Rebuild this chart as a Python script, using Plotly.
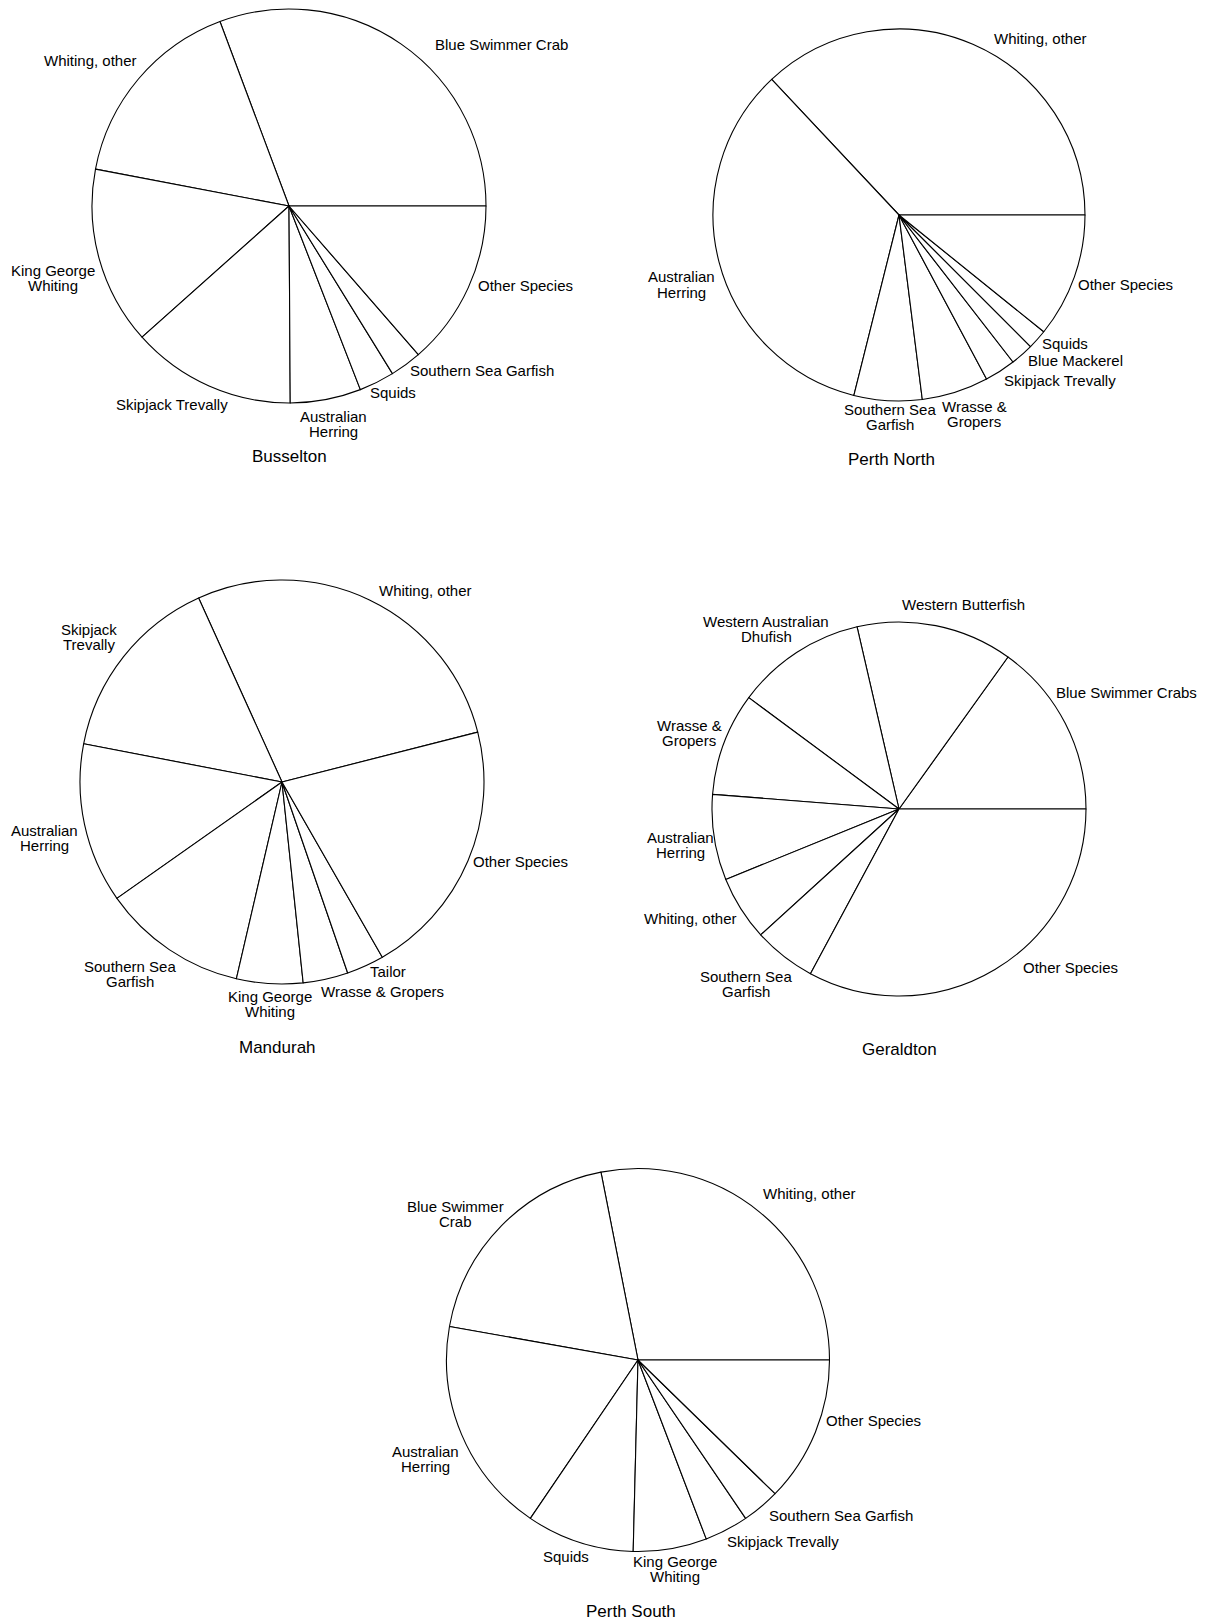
import plotly.graph_objects as go

W, H = 1208, 1623

# ------------------------------------------------------------------ data
busselton_species = ["Blue Swimmer Crab", "Whiting, other", "King George\nWhiting", "Skipjack Trevally",
                     "Australian\nHerring", "Squids", "Southern Sea Garfish", "Other Species"]
busselton_share = [30.7, 16.3, 14.6, 13.5, 5.8, 2.9, 2.6, 13.6]

perth_north_species = ["Whiting, other", "Australian\nHerring", "Southern Sea\nGarfish", "Wrasse &\nGropers",
                       "Skipjack Trevally", "Blue Mackerel", "Squids", "Other Species"]
perth_north_share = [37.0, 34.1, 5.9, 5.8, 2.7, 2.0, 1.7, 10.8]

mandurah_species = ["Whiting, other", "Skipjack\nTrevally", "Australian\nHerring", "Southern Sea\nGarfish",
                    "King George\nWhiting", "Wrasse & Gropers", "Tailor", "Other Species"]
mandurah_share = [27.8, 15.2, 12.8, 11.6, 5.3, 3.6, 3.0, 20.7]

geraldton_species = ["Blue Swimmer Crabs", "Western Butterfish", "Western Australian\nDhufish", "Wrasse &\nGropers",
                     "Australian\nHerring", "Whiting, other", "Southern Sea\nGarfish", "Other Species"]
geraldton_share = [15.1, 13.5, 11.25, 8.9, 7.4, 5.6, 5.4, 32.85]

perth_south_species = ["Whiting, other", "Blue Swimmer\nCrab", "Australian\nHerring", "Squids",
                       "King George\nWhiting", "Skipjack Trevally", "Southern Sea Garfish", "Other Species"]
perth_south_share = [28.1, 19.1, 18.3, 9.1, 6.2, 3.7, 3.2, 12.3]

regions = ["Busselton", "Perth North", "Mandurah", "Geraldton", "Perth South"]
species_by_region = [busselton_species, perth_north_species, mandurah_species, geraldton_species, perth_south_species]
share_by_region = [busselton_share, perth_north_share, mandurah_share, geraldton_share, perth_south_share]

# ------------------------------------------------------------------ layout (px)
# pie centre x, centre y, radius, start angle (deg, counter-clockwise from 3 o'clock)
PIE_BOX = {
    "Busselton": (289, 206, 197, 0.0),
    "Perth North": (899, 215, 186, 0.0),
    "Mandurah": (282, 782, 202, 14.3),
    "Geraldton": (899, 809, 187, 0.0),
    "Perth South": (638, 1360, 191.5, 0.0),
}
TITLE_POS = {
    "Busselton": (289, 457),
    "Perth North": (891, 459),
    "Mandurah": (277, 1047),
    "Geraldton": (899, 1049),
    "Perth South": (631, 1611),
}
# label anchor x, centre y, x-anchor  (same order as species lists)
LABEL_POS = {
    "Busselton": [(434.6, 44.3, "left"), (136.5, 60, "right"), (52.5, 278, "center"), (227.7, 404, "right"),
                  (333.7, 423.5, "center"), (370.4, 392.7, "left"), (409.6, 370, "left"), (477.7, 285.7, "left")],
    "Perth North": [(994.2, 38.3, "left"), (681.2, 284.5, "center"), (889.6, 416.5, "center"),
                    (974.2, 414.2, "center"), (1003.8, 380, "left"), (1027.7, 360, "left"),
                    (1042.3, 343.3, "left"), (1078, 284, "left")],
    "Mandurah": [(378.8, 590.7, "left"), (88.5, 636.8, "center"), (44.8, 838.3, "center"), (130, 973.8, "center"),
                 (269.8, 1003.8, "center"), (321, 991.7, "left"), (370, 971.7, "left"), (473, 861.7, "left")],
    "Geraldton": [(1055.8, 692.7, "left"), (902, 604.3, "left"), (766, 628.7, "center"), (689, 733.3, "center"),
                  (680, 845.2, "center"), (736.5, 918.3, "right"), (746, 983.5, "center"), (1023, 967.7, "left")],
    "Perth South": [(762.7, 1193.3, "left"), (455, 1214.2, "center"), (425.6, 1459.2, "center"),
                    (589, 1556.7, "right"), (675, 1568.5, "center"), (727, 1541.7, "left"),
                    (769.2, 1515, "left"), (825.8, 1420.7, "left")],
}
FONT = "Liberation Sans, Arial, Helvetica, sans-serif"
LABEL_SIZE = 15
TITLE_SIZE = 17
LINE_STEP = 15


def px(x):
    return x / W


def py(y):
    return 1 - y / H


fig = go.Figure()
annotations = []

for region, species, share in zip(regions, species_by_region, share_by_region):
    cx, cy, r, start = PIE_BOX[region]
    total = sum(share)
    first_deg = 360.0 * share[0] / total
    rotation = (90.0 - start) - first_deg
    fig.add_trace(go.Pie(
        labels=[s.replace("\n", " ") for s in species],
        values=share,
        sort=False,
        direction="counterclockwise",
        rotation=rotation,
        textinfo="none",
        textposition="none",
        hoverinfo="label+percent",
        marker=dict(colors=["white"] * len(share), line=dict(color="black", width=1.1)),
        domain=dict(x=[px(cx - r), px(cx + r)], y=[py(cy + r), py(cy - r)]),
        showlegend=False,
        name=region,
    ))
    for name, (lx, ly, anchor) in zip(species, LABEL_POS[region]):
        lines = name.split("\n")
        n = len(lines)
        for k, line in enumerate(lines):
            yy = ly + (k - (n - 1) / 2) * LINE_STEP
            annotations.append(dict(
                x=px(lx), y=py(yy), xref="paper", yref="paper", text=line, showarrow=False,
                xanchor=anchor, yanchor="middle", align="center",
                borderpad=0, borderwidth=0,
                font=dict(family=FONT, size=LABEL_SIZE, color="black"),
            ))
    tx, ty = TITLE_POS[region]
    annotations.append(dict(
        x=px(tx), y=py(ty), xref="paper", yref="paper", text=region, showarrow=False,
        xanchor="center", yanchor="middle", borderpad=0, borderwidth=0,
        font=dict(family=FONT, size=TITLE_SIZE, color="black"),
    ))

fig.update_layout(
    width=W, height=H,
    margin=dict(l=0, r=0, t=0, b=0),
    paper_bgcolor="white", plot_bgcolor="white",
    annotations=annotations,
    font=dict(family=FONT, color="black"),
)

fig.write_html("out.html", post_script="document.body.style.margin='0';",
               config={"displayModeBar": False})
